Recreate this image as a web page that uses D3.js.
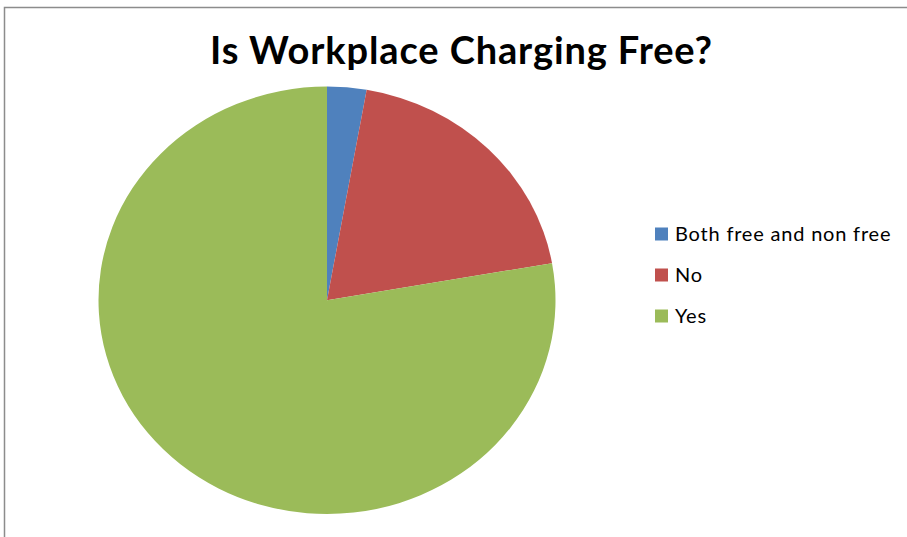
<!DOCTYPE html>
<html>
<head>
<meta charset="utf-8">
<script src="https://cdn.jsdelivr.net/npm/d3@7"></script>
<style>
  html, body { margin: 0; padding: 0; background: #ffffff; }
  svg { display: block; }
</style>
</head>
<body>
<svg id="chart" width="907" height="537"></svg>
<script>
const title = "Is Workplace Charging Free?";
const categories = ["Both free and non free", "No", "Yes"];
const values = [1, 7, 28];
const colors = ["#4F81BD", "#C0504D", "#9BBB59"];

const svg = d3.select("#chart");
const W = 907, H = 537;

// chart border
svg.append("rect")
  .attr("x", 4.5).attr("y", 7.5)
  .attr("width", W + 10).attr("height", H + 10)
  .attr("fill", "none")
  .attr("stroke", "#8c8c8c")
  .attr("stroke-width", 1.5);

// title
svg.append("text")
  .attr("x", 461).attr("y", 64)
  .attr("text-anchor", "middle")
  .attr("font-family", "Lato, 'Open Sans', sans-serif")
  .attr("font-weight", "bold")
  .attr("font-size", 38)
  .attr("textLength", 502)
  .attr("lengthAdjust", "spacing")
  .attr("fill", "#000")
  .text(title);

// pie
const cx = 327, cy = 300.3, rx = 228.5, ry = 213.7;
const data = categories.map((c, i) => ({ cat: c, value: values[i], color: colors[i] }));
const pie = d3.pie().value(d => d.value).sort(null);
const arc = d3.arc().innerRadius(0).outerRadius(ry);
const g = svg.append("g")
  .attr("transform", `translate(${cx},${cy}) scale(${rx / ry},1)`);
g.selectAll("path")
  .data(pie(data))
  .join("path")
  .attr("d", arc)
  .attr("fill", d => d.data.color);

// legend
const legend = svg.append("g");
const rowY = d3.scalePoint().domain(categories).range([234, 316]);
const items = legend.selectAll("g")
  .data(data)
  .join("g")
  .attr("transform", d => `translate(655,${rowY(d.cat)})`);
items.append("rect")
  .attr("x", 0).attr("y", -6.5)
  .attr("width", 13).attr("height", 13)
  .attr("fill", d => d.color);
items.append("text")
  .attr("x", 20).attr("y", 0)
  .attr("dy", "0.35em")
  .attr("font-family", "Lato, 'Open Sans', sans-serif")
  .attr("font-size", 20)
  .attr("letter-spacing", 0.8)
  .attr("fill", "#000")
  .text(d => d.cat);
</script>
</body>
</html>
